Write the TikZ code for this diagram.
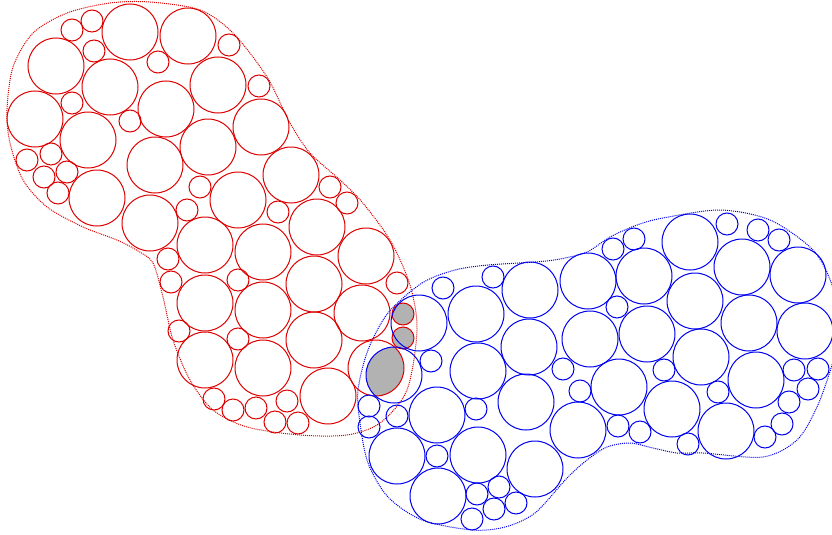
\documentclass[tikz,border=0pt]{standalone}
\usepackage{tikz}
\definecolor{packred}{RGB}{221,0,0}
\definecolor{packblue}{RGB}{0,0,240}

\begin{document}
\begin{tikzpicture}[x=1pt, y=-1pt,
  redball/.style={draw=packred, line width=1pt},
  blueball/.style={draw=packblue, line width=1pt},
  redhull/.style={draw=packred, densely dotted, line width=1pt},
  bluehull/.style={draw=packblue, densely dotted, line width=1pt},
  overlap/.style={fill=black!30},
]
\useasboundingbox (0,0) rectangle (832,535);

% container outlines
\draw[redhull] plot[smooth cycle] coordinates {
  (150,2) (200,10) (233,33) (267,77) (290,123) (310,153) (340,180)
  (362,202) (390,240) (410,285) (417,330) (407,390) (380,423) (347,435)
  (300,435) (247,427) (213,410) (190,380) (173,340) (163,297) (153,263)
  (138,251) (117,240) (83,227) (47,207) (23,180) (10,143) (7,110)
  (13,67) (33,33) (67,13) (110,3)};
\draw[bluehull] plot[smooth cycle] coordinates {
  (388,313) (422,283) (455,270) (488,265) (535,262) (560,259) (587,252)
  (610,237) (637,225) (663,218) (720,210) (770,220) (813,250) (832,285)
  (840,330) (832,365) (817,407) (797,440) (763,457) (703,453) (677,453)
  (653,448) (630,443) (607,447) (587,460) (567,478) (535,513) (505,527)
  (472,530) (422,520) (388,497) (368,463) (360,423) (358,390) (368,350)};

% shared parts of the two packings
\begin{scope}
  \clip (394,375) circle[radius=28pt];
  \fill[overlap] (376,368) circle[radius=28pt];
\end{scope}
\fill[overlap] (403,314) circle[radius=11pt];
\fill[overlap] (403,338) circle[radius=11pt];

% red packing
\foreach \cx/\cy in {130/32, 188/36, 56/66, 110/87, 218/85, 35/119, 166/109,
    88/140, 261/127, 208/147, 155/165, 97/198, 291/175, 238/200, 150/223,
    205/245, 317/227, 263/252, 366/256, 314/284, 205/303, 263/310, 362/313,
    314/340, 205/360, 263/368, 376/368, 328/396}
  \draw[redball] (\cx,\cy) circle[radius=28pt];
\foreach \cx/\cy in {72/30, 92/21, 94/51, 158/62, 229/45, 72/103, 130/121,
    259/86, 27/160, 51/154, 44/177, 67/172, 58/193, 200/187, 330/187,
    347/203, 278/212, 187/210, 168/259, 171/282, 238/280, 179/331, 238/339,
    214/399, 233/410, 256/408, 275/422, 287/401, 298/423, 397/283,
    403/314, 403/338}
  \draw[redball] (\cx,\cy) circle[radius=11pt];

% blue packing
\foreach \cx/\cy in {394/375, 419/323, 476/314, 530/290, 478/371, 529/347,
    437/415, 526/402, 397/456, 478/455, 438/496, 535/469, 588/281, 644/276,
    590/339, 647/334, 619/387, 578/430, 672/409, 690/242, 742/267, 798/275,
    695/301, 749/323, 805/331, 701/357, 756/380, 726/431}
  \draw[blueball] (\cx,\cy) circle[radius=28pt];
\foreach \cx/\cy in {493/277, 443/288, 431/361, 369/406, 397/416, 369/427,
    476/409, 437/456, 477/494, 499/487, 494/509, 516/503, 472/519,
    613/249, 634/239, 617/307, 563/369, 580/391, 664/370, 618/426, 640/432,
    727/224, 758/230, 779/240, 794/370, 818/369, 808/389, 789/402, 718/392,
    782/424, 765/437, 688/444}
  \draw[blueball] (\cx,\cy) circle[radius=11pt];

\end{tikzpicture}
\end{document}
